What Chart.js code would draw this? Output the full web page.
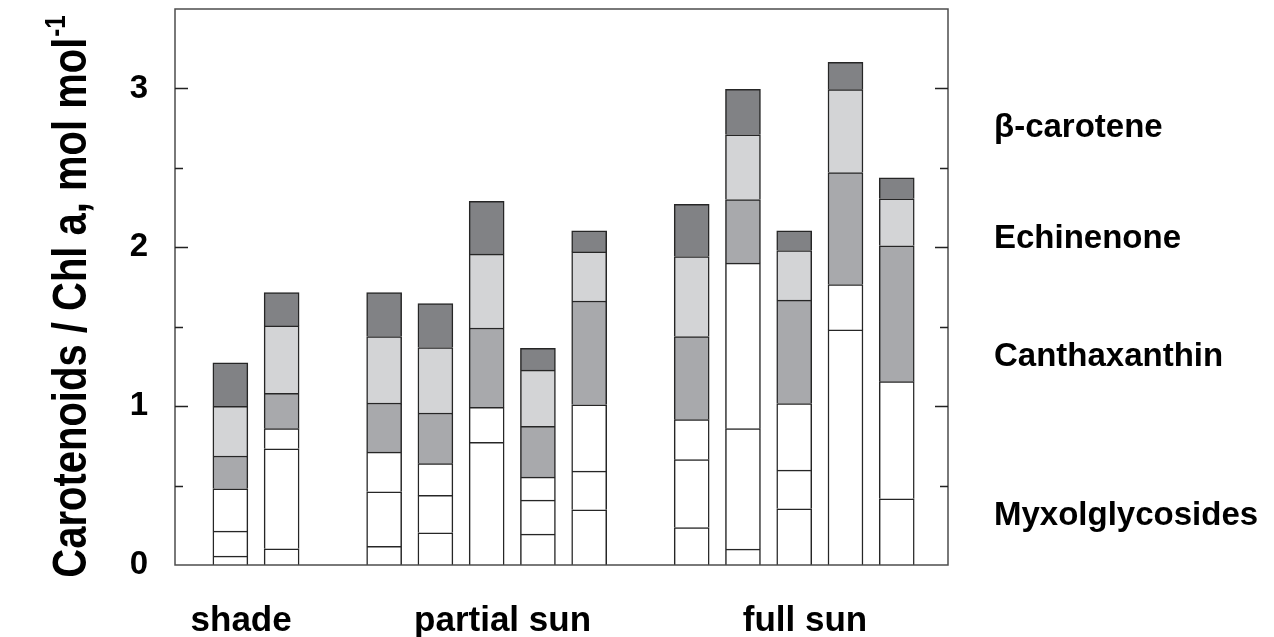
<!DOCTYPE html>
<html>
<head>
<meta charset="utf-8">
<script src="https://cdn.jsdelivr.net/npm/chart.js@4.4.1/dist/chart.umd.min.js"></script>
<style>
  html, body { margin: 0; padding: 0; background: #fff; }
  #wrap { width: 1274px; height: 637px; position: relative; }
</style>
</head>
<body>
<div id="wrap"><canvas id="chart" width="1274" height="637"></canvas></div>
<script>
// Light groups and number of samples in each
const groups = ['shade', 'partial sun', 'full sun'];
const groupSizes = [2, 5, 5];

// Carotenoid / Chl a ratios (mol mol-1) per sample, stacked bottom-up
const myxolA        = [0.056, 0.102, 0.118, 0.203, 0.772, 0.194, 0.348, 0.236, 0.100, 0.354, 1.480, 0.417];
const myxolB        = [0.157, 0.630, 0.343, 0.235, 0.220, 0.214, 0.243, 0.427, 0.758, 0.243, 0.286, 0.737];
const myxolC        = [0.267, 0.126, 0.250, 0.200, null,  0.145, 0.418, 0.252, 1.042, 0.419, null,  null ];
const canthaxanthin = [0.206, 0.223, 0.309, 0.319, 0.500, 0.320, 0.653, 0.523, 0.401, 0.651, 0.705, 0.855];
const echinenone    = [0.313, 0.424, 0.418, 0.412, 0.465, 0.354, 0.309, 0.504, 0.407, 0.313, 0.521, 0.296];
const betaCarotene  = [0.273, 0.210, 0.277, 0.277, 0.332, 0.137, 0.132, 0.328, 0.286, 0.123, 0.172, 0.132];

const pigmentNames = ['β-carotene', 'Echinenone', 'Canthaxanthin', 'Myxolglycosides'];
const yTickLabels = ['0', '1', '2', '3'];

// Sample slots: consecutive within a group, one empty slot between groups
const slots = [];
{
  let pos = 1;
  groupSizes.forEach(n => {
    for (let i = 0; i < n; i++) slots.push(pos++);
    pos++;
  });
}

const FONT = '"Liberation Sans", Arial, sans-serif';
const COLORS = {
  white: '#ffffff',
  cantha: '#a8a9ac',
  echin: '#d3d4d6',
  beta: '#818285',
  edge: '#262626',
  frame: '#4d4d4d'
};

function series(label, values, color) {
  return {
    label,
    data: slots.map((x, i) => ({ x, y: values[i] })),
    backgroundColor: color,
    borderColor: COLORS.edge,
    borderWidth: { top: 1.5, left: 1.5, right: 1.5, bottom: 0 },
    borderSkipped: false,
    barThickness: 35
  };
}

// Frame, inward tick marks, axis title and pigment key
const decorations = {
  id: 'decorations',
  afterDatasetsDraw(chart) {
    const { ctx, chartArea: a, scales: { y } } = chart;
    ctx.save();
    ctx.strokeStyle = COLORS.frame;
    ctx.lineWidth = 1.5;
    ctx.strokeRect(a.left, a.top, a.right - a.left, a.bottom - a.top);

    ctx.strokeStyle = '#222';
    ctx.lineWidth = 1.3;
    y.ticks.forEach(t => {
      if (t.value <= 0 || t.value >= y.max) return;
      const py = Math.round(y.getPixelForValue(t.value)) + 0.5;
      const len = Number.isInteger(t.value) ? 13 : 8;
      ctx.beginPath();
      ctx.moveTo(a.left, py); ctx.lineTo(a.left + len, py);
      ctx.moveTo(a.right, py); ctx.lineTo(a.right - len, py);
      ctx.stroke();
    });
    ctx.restore();
  },
  afterDraw(chart) {
    const { ctx } = chart;
    ctx.save();
    ctx.fillStyle = '#000';

    // y-axis title with superscript unit (tall, narrow lettering)
    const main = 'Carotenoids / Chl a, mol mol';
    const sup = '-1';
    const mainFont = 'bold 40px ' + FONT;
    const supFont = 'bold 24px ' + FONT;
    ctx.font = mainFont;
    const wMain = ctx.measureText(main).width;
    ctx.font = supFont;
    const wSup = ctx.measureText(sup).width;
    const total = wMain + wSup;
    ctx.translate(86, 297);
    ctx.rotate(-Math.PI / 2);
    ctx.scale(1, 1.22);
    ctx.textBaseline = 'alphabetic';
    ctx.textAlign = 'left';
    ctx.font = mainFont;
    ctx.fillText(main, -total / 2, 0);
    ctx.font = supFont;
    ctx.fillText(sup, -total / 2 + wMain + 1, -17);
    ctx.restore();

    // pigment key on the right
    ctx.save();
    ctx.fillStyle = '#000';
    ctx.font = 'bold 33px ' + FONT;
    ctx.textAlign = 'left';
    ctx.textBaseline = 'alphabetic';
    const keyY = [137, 248, 366, 525];
    pigmentNames.forEach((name, i) => ctx.fillText(name, 994, keyY[i]));
    ctx.restore();
  }
};

const groupLabelAt = [1.21, 6.31, 12.21];

new Chart(document.getElementById('chart'), {
  type: 'bar',
  data: {
    datasets: [
      series('Myxolglycosides a', myxolA, COLORS.white),
      series('Myxolglycosides b', myxolB, COLORS.white),
      series('Myxolglycosides c', myxolC, COLORS.white),
      series('Canthaxanthin', canthaxanthin, COLORS.cantha),
      series('Echinenone', echinenone, COLORS.echin),
      series('β-carotene', betaCarotene, COLORS.beta)
    ]
  },
  options: {
    responsive: false,
    animation: false,
    events: [],
    layout: { padding: { left: 0, top: 9, right: 1274 - 948, bottom: 0 } },
    plugins: { legend: { display: false }, tooltip: { enabled: false } },
    scales: {
      x: {
        type: 'linear',
        stacked: true,
        min: -0.08,
        max: 15,
        offset: false,
        grid: { display: false, drawTicks: false },
        border: { display: false },
        afterBuildTicks(scale) {
          scale.ticks = groupLabelAt.map(v => ({ value: v }));
        },
        afterFit(scale) {
          scale.height = 637 - 565;
          scale.paddingLeft = 0; scale.paddingRight = 0;
        },
        ticks: {
          autoSkip: false,
          maxRotation: 0,
          padding: 35,
          color: '#000',
          font: { family: FONT, size: 35, weight: 'bold' },
          callback(value, index) { return groups[index]; }
        }
      },
      y: {
        stacked: true,
        min: 0,
        max: 3.5,
        grid: { display: false, drawTicks: false },
        border: { display: false },
        afterFit(scale) {
          scale.width = 175;
          scale.paddingTop = 0; scale.paddingBottom = 0;
        },
        ticks: {
          stepSize: 0.5,
          padding: 27,
          color: '#000',
          font: { family: FONT, size: 33, weight: 'bold' },
          callback(value) { return Number.isInteger(value) ? yTickLabels[value] : ''; }
        }
      }
    }
  },
  plugins: [decorations]
});
</script>
</body>
</html>
